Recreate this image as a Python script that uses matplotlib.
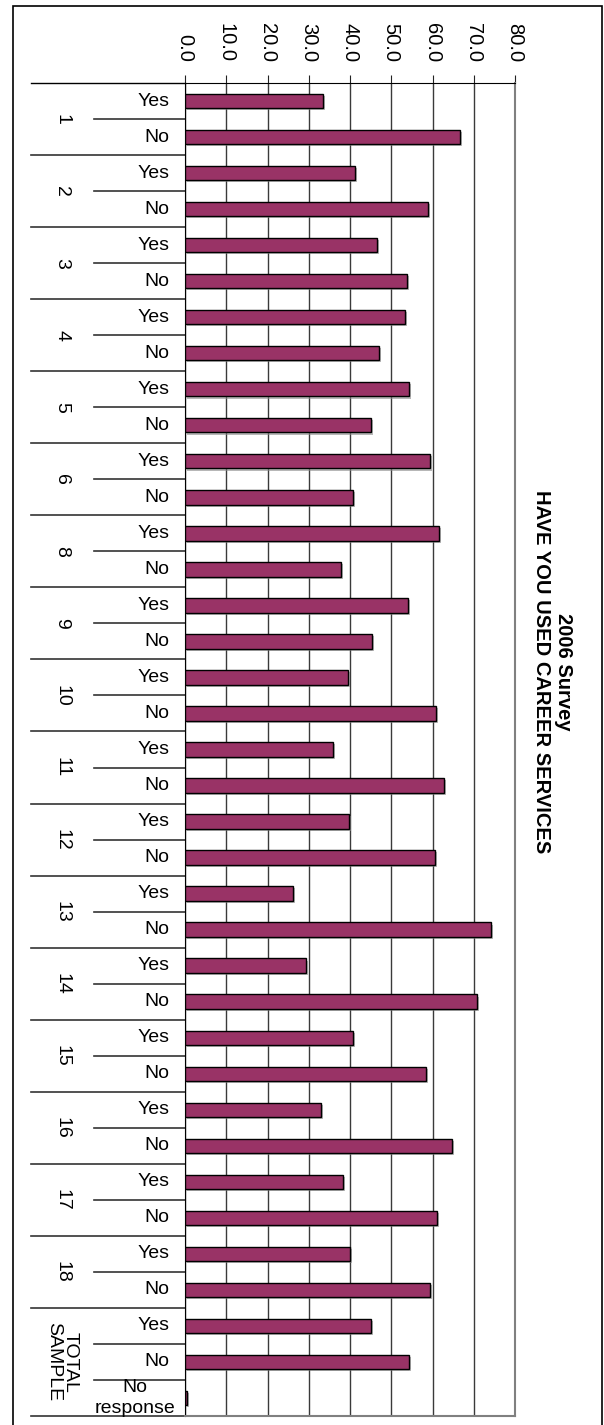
import matplotlib
matplotlib.use("Agg")
import matplotlib.pyplot as plt
import matplotlib.patheffects as pe
from matplotlib.patches import Rectangle

plt.rcParams['font.family'] = ['Liberation Sans', 'DejaVu Sans']

groups = ['1', '2', '3', '4', '5', '6', '8', '9', '10', '11', '12', '13',
          '14', '15', '16', '17', '18', 'TOTAL\nSAMPLE']
yes = [33.4, 41.1, 46.6, 53.4, 54.4, 59.4, 61.6, 54.1, 39.4, 35.8, 39.8, 26.2,
       29.4, 40.8, 33.0, 38.3, 40.1, 45.0]
no = [66.6, 59.0, 53.8, 47.0, 45.0, 40.8, 37.7, 45.4, 60.8, 62.7, 60.6, 74.1,
      70.8, 58.4, 64.8, 61.1, 59.4, 54.4]
no_response = 0.5
xticks = [0, 10, 20, 30, 40, 50, 60, 70, 80]

# flatten to one row per category
labels, values, group_of = [], [], []
for i, g in enumerate(groups):
    labels += ['Yes', 'No']
    values += [yes[i], no[i]]
    group_of += [i, i]
labels.append('No\nresponse')
values.append(no_response)
group_of.append(len(groups) - 1)
pos = list(range(len(values)))

W, H = 604, 1425
fig = plt.figure(figsize=(W / 100, H / 100), dpi=100)
ax = fig.add_axes([185 / W, 1 - 1416 / H, 330 / W, 1333 / H])

ax.barh(pos, values, height=0.4, color='#993366', edgecolor='black', linewidth=1,
        zorder=3,
        path_effects=[pe.SimplePatchShadow(offset=(1.5, -1.5), shadow_rgbFace='#888888', alpha=0.6),
                      pe.Normal()])

ax.set_xlim(0, 80)
ax.set_ylim(len(values) - 0.5, -0.5)
ax.set_xticks(xticks)
ax.set_xticklabels([f'{v:.1f}' for v in xticks], rotation=270, fontsize=14.5)
ax.xaxis.tick_top()
ax.tick_params(axis='x', direction='out', length=6, pad=9, color='#222222')
ax.set_yticks([])
ax.grid(axis='x', color='#3a3a3a', linewidth=1)
ax.set_axisbelow(True)
for s in ['top', 'left']:
    ax.spines[s].set_color('black')
for s in ['right', 'bottom']:
    ax.spines[s].set_color('#808080')
    ax.spines[s].set_linewidth(1.5)

tr = ax.get_yaxis_transform()
# inner category labels
for p, lab in zip(pos, labels):
    if '\n' in lab:
        ax.text(-0.152, p, lab, transform=tr, ha='center', va='center', fontsize=14, linespacing=1.25)
    else:
        ax.text(-0.046, p, lab, transform=tr, ha='right', va='center', fontsize=14)

# separators and group labels
long_x = (31 - 185) / 330
short_x = (94 - 185) / 330
ax.plot([long_x, 0], [-0.5, -0.5], transform=tr, color='black', lw=1, clip_on=False)
for p in pos:
    y = p + 0.5
    if p == pos[-1] or group_of[p] != group_of[p + 1]:
        ax.plot([long_x, 0], [y, y], transform=tr, color='#333333', lw=1.2, clip_on=False)
    else:
        ax.plot([short_x, 0], [y, y], transform=tr, color='#333333', lw=1.2, clip_on=False)

for i, g in enumerate(groups):
    rows = [p for p in pos if group_of[p] == i]
    yc = (rows[0] + rows[-1]) / 2
    ax.text((62 - 185) / 330, yc, g, transform=tr, rotation=270, ha='center', va='center',
            fontsize=14, multialignment='center', linespacing=1.0)

fig.text(552 / W, 1 - 672 / H, '2006 Survey\nHAVE YOU USED CAREER SERVICES',
         rotation=270, ha='center', va='center', multialignment='center',
         fontsize=14.5, fontweight='bold', linespacing=1.2)

fig.patches.append(Rectangle((13 / W, -0.01), 589 / W, 1 - 6 / H + 0.01,
                             transform=fig.transFigure, fill=False,
                             edgecolor='black', linewidth=1.2))

fig.savefig('out.png', dpi=100)
